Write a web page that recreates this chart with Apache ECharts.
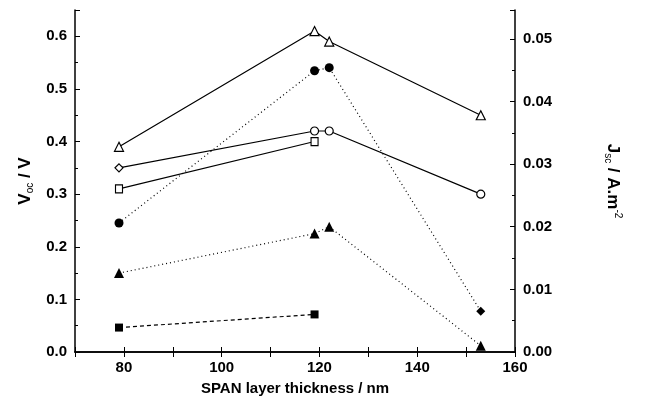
<!DOCTYPE html>
<html>
<head>
<meta charset="utf-8">
<script src="https://cdn.jsdelivr.net/npm/echarts@6/dist/echarts.min.js"></script>
<style>
  html, body { margin: 0; padding: 0; background: #fff; }
  #container { width: 645px; height: 404px; }
</style>
</head>
<body>
<div id="container"></div>
<script>
// SPAN layer thickness (nm)
let thick = [79, 119, 122, 153];
let thickSq = [79, 119];
// Voc (V), open symbols
let vocTriangle = [0.39, 0.61, 0.59, 0.45];
let vocCircle = [0.35, 0.42, 0.42, 0.30];
let vocSquare = [0.31, 0.40];
// Jsc (A.m-2), filled symbols
let jscCircle = [0.0206, 0.0449, 0.0454, 0.0065];
let jscTriangle = [0.0126, 0.0189, 0.0200, 0.0010];
let jscSquare = [0.0039, 0.0060];

let xTicks = [80, 100, 120, 140, 160];

let openCircleSymbols = ['diamond', 'circle', 'circle', 'circle'];
let fillCircleSymbols = ['circle', 'circle', 'circle', 'diamond'];

function pairs(xs, ys, syms) {
    return xs.map(function (x, i) {
        let d = {value: [x, ys[i]]};
        if (syms) d.symbol = syms[i];
        return d;
    });
}

let dom = document.getElementById("container");
let myChart = echarts.init(dom);

let font = 'Liberation Sans, Arial, sans-serif';
let labelStyle = {color: '#000', fontFamily: font, fontSize: 15, fontWeight: 'bold'};
let axisLine = {show: true, lineStyle: {color: '#000', width: 1.5}};

let openItem = {color: '#fff', borderColor: '#000', borderWidth: 1.2};
let fillItem = {color: '#000', borderColor: '#000', borderWidth: 0};

let option = {
    animation: false,
    backgroundColor: '#fff',
    grid: {left: 75, right: 130, top: 10, bottom: 52},
    xAxis: [
        {
            type: 'value',
            min: 70,
            max: 160,
            interval: 10,
            name: 'SPAN layer thickness / nm',
            nameLocation: 'middle',
            nameGap: 29,
            nameTextStyle: {color: '#000', fontFamily: font, fontSize: 15, fontWeight: 'bold'},
            axisLine: axisLine,
            axisTick: {show: true, inside: true, length: 5, lineStyle: {color: '#000'}},
            axisLabel: Object.assign({
                margin: 8,
                formatter: function (v) { return xTicks.indexOf(v) >= 0 ? String(v) : ''; }
            }, labelStyle),
            splitLine: {show: false}
        },
        {
            type: 'value',
            position: 'top',
            min: 70,
            max: 160,
            interval: 10,
            axisLine: axisLine,
            axisTick: {show: true, inside: true, length: 5, lineStyle: {color: '#000'}},
            axisLabel: {show: false},
            splitLine: {show: false}
        }
    ],
    yAxis: [
        {
            type: 'value',
            min: 0,
            max: 0.65,
            interval: 0.1,
            name: '{v|V}{s|oc}{v| / V}',
            nameLocation: 'middle',
            nameRotate: 90,
            nameGap: 36,
            nameTextStyle: {
                rich: {
                    v: {fontFamily: font, fontSize: 17, fontWeight: 'bold', color: '#000', lineHeight: 20},
                    s: {fontFamily: font, fontSize: 10, color: '#000', lineHeight: 20, verticalAlign: 'bottom'}
                }
            },
            axisLine: axisLine,
            axisTick: {show: true, inside: true, length: 5, lineStyle: {color: '#000'}},
            minorTick: {show: true, splitNumber: 2, length: 3, lineStyle: {color: '#000'}},
            axisLabel: Object.assign({
                margin: 8,
                showMaxLabel: false,
                formatter: function (v) { return v.toFixed(1); }
            }, labelStyle),
            splitLine: {show: false}
        },
        {
            type: 'value',
            min: 0,
            max: 0.0546,
            interval: 0.01,
            position: 'right',
            name: '{v|J}{s|sc}{v| / A.m}{p|-2}',
            nameLocation: 'middle',
            nameRotate: -90,
            nameGap: 88,
            nameTextStyle: {
                rich: {
                    v: {fontFamily: font, fontSize: 17, fontWeight: 'bold', color: '#000', lineHeight: 20},
                    s: {fontFamily: font, fontSize: 10, color: '#000', lineHeight: 20, verticalAlign: 'bottom'},
                    p: {fontFamily: font, fontSize: 10, color: '#000', lineHeight: 20, verticalAlign: 'top'}
                }
            },
            axisLine: axisLine,
            axisTick: {show: true, inside: true, length: 5, lineStyle: {color: '#000'}},
            minorTick: {show: true, splitNumber: 2, length: 3, lineStyle: {color: '#000'}},
            axisLabel: Object.assign({
                margin: 8,
                showMaxLabel: false,
                formatter: function (v) { return v.toFixed(2); }
            }, labelStyle),
            splitLine: {show: false}
        }
    ],
    series: [
        {
            name: 'Voc triangle',
            type: 'line',
            yAxisIndex: 0,
            data: pairs(thick, vocTriangle),
            symbol: 'triangle',
            symbolSize: 9,
            lineStyle: {color: '#000', width: 1.2},
            itemStyle: openItem
        },
        {
            name: 'Voc circle',
            type: 'line',
            yAxisIndex: 0,
            data: pairs(thick, vocCircle, openCircleSymbols),
            symbolSize: 8,
            lineStyle: {color: '#000', width: 1.2},
            itemStyle: openItem
        },
        {
            name: 'Voc square',
            type: 'line',
            yAxisIndex: 0,
            data: pairs(thickSq, vocSquare),
            symbol: 'rect',
            symbolSize: [7, 8],
            lineStyle: {color: '#000', width: 1.2},
            itemStyle: openItem
        },
        {
            name: 'Jsc circle',
            type: 'line',
            yAxisIndex: 1,
            data: pairs(thick, jscCircle, fillCircleSymbols),
            symbolSize: 9,
            lineStyle: {color: '#000', width: 1.2, type: [1, 3]},
            itemStyle: fillItem
        },
        {
            name: 'Jsc triangle',
            type: 'line',
            yAxisIndex: 1,
            data: pairs(thick, jscTriangle),
            symbol: 'triangle',
            symbolSize: 10,
            lineStyle: {color: '#000', width: 1.2, type: [1, 3]},
            itemStyle: fillItem
        },
        {
            name: 'Jsc square',
            type: 'line',
            yAxisIndex: 1,
            data: pairs(thickSq, jscSquare),
            symbol: 'rect',
            symbolSize: 8,
            lineStyle: {color: '#000', width: 1.2, type: [4, 3]},
            itemStyle: fillItem
        }
    ]
};

if (option && typeof option === "object") {
    myChart.setOption(option, true);
}
window.onresize = function () {
    myChart.resize();
};
</script>
</body>
</html>
